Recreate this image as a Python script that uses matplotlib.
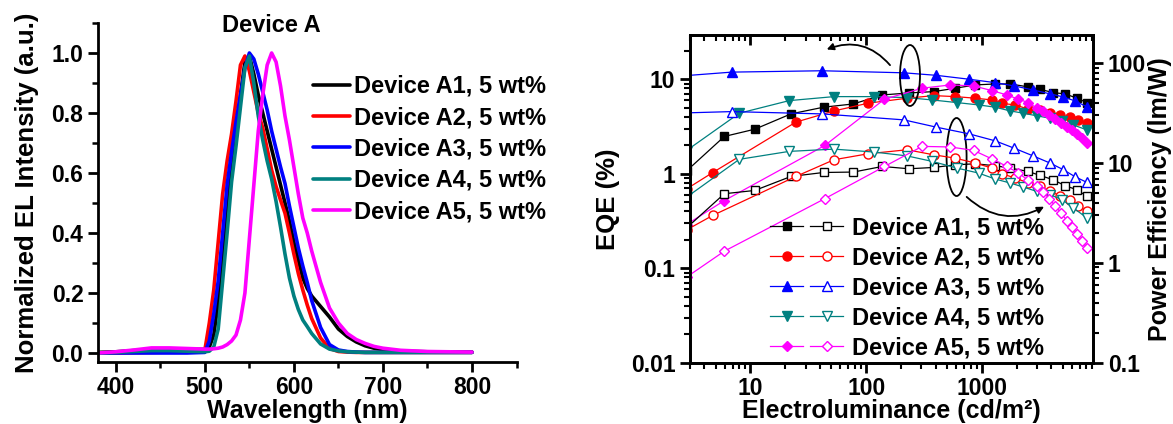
import matplotlib
matplotlib.use('Agg')
import matplotlib.pyplot as plt
from matplotlib import ticker
from matplotlib.patches import Ellipse
from matplotlib.legend_handler import HandlerTuple

plt.rcParams['font.family'] = ['Liberation Sans', 'DejaVu Sans']
plt.rcParams['font.weight'] = 'bold'
plt.rcParams['axes.labelweight'] = 'bold'
plt.rcParams['axes.linewidth'] = 2.0

# ---- EL spectra (left panel) ----
wavelength = [380, 400, 420, 440, 460, 480, 500, 505, 510, 515, 520, 525, 530, 535, 540, 545,
              550, 555, 560, 565, 570, 575, 580, 585, 590, 595, 600, 605, 610, 615, 620, 630,
              640, 650, 660, 670, 680, 690, 700, 720, 750, 800]
el_a1 = [0.002, 0.004, 0.008, 0.012, 0.012, 0.012, 0.012, 0.02, 0.06, 0.17, 0.32, 0.48, 0.62, 0.74,
         0.86, 0.97, 0.99, 0.93, 0.86, 0.80, 0.74, 0.68, 0.62, 0.56, 0.50, 0.44, 0.37, 0.31, 0.25,
         0.215, 0.19, 0.155, 0.12, 0.08, 0.055, 0.037, 0.024, 0.016, 0.011, 0.006, 0.004, 0.003]
el_a2 = [0.0, 0.0, 0.001, 0.002, 0.003, 0.003, 0.01, 0.10, 0.21, 0.37, 0.53, 0.64, 0.73, 0.84,
         0.96, 0.99, 0.94, 0.87, 0.80, 0.75, 0.68, 0.61, 0.555, 0.51, 0.466, 0.40, 0.33, 0.265,
         0.21, 0.16, 0.115, 0.05, 0.015, 0.005, 0.003, 0.002, 0.002, 0.002, 0.002, 0.002, 0.002, 0.002]
el_a3 = [0.0, 0.0, 0.0, 0.0, 0.0, 0.0, 0.002, 0.04, 0.13, 0.24, 0.40, 0.56, 0.67, 0.77,
         0.86, 0.95, 1.0, 0.98, 0.93, 0.87, 0.81, 0.74, 0.68, 0.62, 0.565, 0.49, 0.42, 0.35,
         0.29, 0.235, 0.175, 0.085, 0.028, 0.01, 0.005, 0.003, 0.002, 0.002, 0.002, 0.002, 0.002, 0.002]
el_a4 = [0.0, 0.002, 0.005, 0.008, 0.008, 0.006, 0.004, 0.006, 0.02, 0.08, 0.24, 0.40, 0.57, 0.69,
         0.82, 0.95, 0.99, 0.90, 0.79, 0.71, 0.64, 0.58, 0.505, 0.42, 0.33, 0.25, 0.19, 0.145,
         0.11, 0.088, 0.065, 0.03, 0.013, 0.007, 0.004, 0.003, 0.002, 0.002, 0.002, 0.002, 0.002, 0.002]
el_a5 = [0.0, 0.004, 0.01, 0.017, 0.017, 0.015, 0.013, 0.013, 0.014, 0.016, 0.02, 0.028, 0.04, 0.06,
         0.11, 0.2, 0.38, 0.56, 0.74, 0.86, 0.96, 1.0, 0.97, 0.89, 0.79, 0.71, 0.62, 0.53,
         0.45, 0.40, 0.34, 0.235, 0.15, 0.10, 0.065, 0.045, 0.032, 0.022, 0.016, 0.009, 0.005, 0.003]

# ---- EQE / power efficiency vs luminance (right panel) ----
lum_a1 = [2.8, 5.94, 10.9, 22.4, 42.8, 77.6, 138, 234, 384, 591, 879, 1306, 1762, 2518, 3194,
          4132, 5248, 6656, 8110]
eqe_a1 = [1.07, 2.48, 2.96, 4.30, 5.06, 5.48, 6.82, 7.16, 7.40, 8.04, 8.71, 8.92, 8.92, 8.30, 7.83,
          7.22, 7.00, 6.30, 5.66]
pe_a1 = [2.24, 4.93, 5.32, 7.35, 8.05, 8.13, 9.25, 8.77, 9.04, 9.61, 9.84, 9.40, 8.91, 8.24, 7.52,
         6.81, 5.93, 5.41, 4.63]

lum_a2 = [2.8, 4.72, 24.7, 52.7, 104, 226, 384, 591, 879, 1225, 1493, 1945, 2531, 3194, 3896,
          4753, 5794, 6797, 8110]
eqe_a2 = [0.69, 1.03, 3.52, 4.62, 5.58, 6.30, 6.71, 6.55, 6.30, 6.04, 5.55, 5.35, 4.82, 4.69, 4.44,
          4.20, 3.97, 3.72, 3.43]
pe_a2 = [2.14, 2.99, 7.35, 10.8, 12.4, 13.6, 12.1, 11.2, 10.0, 8.91, 7.82, 7.08, 6.31, 5.83, 5.20,
         4.71, 4.23, 3.74, 3.28]

lum_a3 = [2.0, 6.89, 41.6, 212, 405, 780, 1306, 1905, 2778, 3896, 5047, 6400, 8110]
eqe_a3 = [10.6, 11.9, 12.3, 11.7, 11.0, 10.0, 9.2, 8.5, 7.7, 7.0, 6.5, 5.9, 5.1]
pe_a3 = [31.5, 32.8, 31.1, 27.1, 22.9, 19.6, 16.7, 14.1, 11.8, 10.0, 8.6, 7.3, 6.4]

lum_a4 = [2.8, 8.0, 21.6, 52.7, 117, 226, 372, 611, 938, 1306, 1762, 2291, 2990, 3896, 4943,
          6147, 8110]
eqe_a4 = [1.76, 4.37, 5.94, 6.55, 6.55, 6.39, 6.04, 5.66, 5.35, 5.06, 4.62, 4.37, 4.10, 3.87, 3.58,
          3.29, 2.91]
pe_a4 = [4.55, 10.9, 13.1, 13.8, 12.9, 11.8, 10.4, 8.91, 7.94, 6.92, 6.31, 5.75, 5.20, 4.82, 4.30,
         3.57, 2.82]

lum_a5 = [2.8, 5.94, 43.9, 144, 305, 535, 849, 1225, 1649, 2075, 2531, 2990, 3388, 3819, 4303,
          4845, 5458, 6030, 6656, 7350, 8110]
eqe_a5 = [0.29, 0.52, 1.99, 6.15, 8.04, 8.71, 8.50, 7.58, 6.82, 6.15, 5.66, 4.94, 4.57, 4.20, 3.81,
          3.46, 3.14, 2.88, 2.64, 2.37, 2.11]
pe_a5 = [0.72, 1.31, 4.40, 9.25, 14.7, 14.5, 13.4, 11.0, 9.25, 7.94, 6.70, 5.83, 5.16, 4.40, 3.74,
         3.15, 2.65, 2.28, 1.96, 1.67, 1.41]

labels = ['Device A1, 5 wt%', 'Device A2, 5 wt%', 'Device A3, 5 wt%',
          'Device A4, 5 wt%', 'Device A5, 5 wt%']
colors = ['#000000', '#ff0000', '#0000ff', '#008080', '#ff00ff']
markers = ['s', 'o', '^', 'v', 'D']

W, H = 1173, 424
fig = plt.figure(figsize=(W / 100, H / 100), dpi=100)

# ---------- left panel ----------
ax1 = fig.add_axes([98 / W, 1 - 361.7 / H, 418.5 / W, 338.7 / H])
for spec, c, lab in zip([el_a1, el_a2, el_a3, el_a4, el_a5], colors, labels):
    ax1.plot(wavelength, spec, color=c, lw=2.6, label=lab, solid_capstyle='round')
ax1.set_xlim(380, 850)
ax1.set_ylim(-0.029, 1.1)
ax1.spines['top'].set_visible(False)
ax1.spines['right'].set_visible(False)
ax1.xaxis.set_major_locator(ticker.MultipleLocator(100))
ax1.xaxis.set_minor_locator(ticker.MultipleLocator(50))
ax1.yaxis.set_major_locator(ticker.MultipleLocator(0.2))
ax1.yaxis.set_minor_locator(ticker.MultipleLocator(0.1))
ax1.yaxis.set_major_formatter(ticker.FormatStrFormatter('%.1f'))
ax1.tick_params(which='major', direction='out', length=7, width=2, labelsize=16.5)
ax1.tick_params(which='minor', direction='out', length=4, width=1.8)
ax1.set_xlabel('Wavelength (nm)', fontsize=18, labelpad=0)
ax1.set_ylabel('Normalized EL Intensity (a.u.)', fontsize=18.5, labelpad=9)
fig.text(271 / W, 1 - 25 / H, 'Device A', ha='center', va='center', fontsize=17)
ax1.legend(loc='upper left', bbox_to_anchor=(313 / W, 1 - 75 / H), bbox_transform=fig.transFigure,
           frameon=False, fontsize=17, handlelength=1.55, handletextpad=0.17, labelspacing=0.35,
           borderpad=0, borderaxespad=0)

# ---------- right panel ----------
ax2 = fig.add_axes([690 / W, 1 - 362.7 / H, 403.3 / W, 327.7 / H])
ax3 = ax2.twinx()
ax2.set_xscale('log')
ax2.set_yscale('log')
ax3.set_yscale('log')

handles = []
series = [(lum_a1, eqe_a1, pe_a1), (lum_a2, eqe_a2, pe_a2), (lum_a3, eqe_a3, pe_a3),
          (lum_a4, eqe_a4, pe_a4), (lum_a5, eqe_a5, pe_a5)]
for (lum, eqe, pe), c, m in zip(series, colors, markers):
    ms = 5.5 if m in ('s', 'D') else 6.5
    f, = ax2.plot(lum, eqe, color=c, lw=0.9, marker=m, ms=ms, mfc=c, mec=c)
    o, = ax3.plot(lum, pe, color=c, lw=0.9, marker=m, ms=ms, mfc='white', mec=c, mew=1.0)
    handles.append((f, o))

ax2.set_xlim(3, 9200)
ax2.set_ylim(0.01, 29.4)
ax3.set_ylim(0.1, 192)

fmt = ticker.FuncFormatter(lambda v, p: f'{v:g}')
for axis in (ax2.xaxis, ax2.yaxis, ax3.yaxis):
    axis.set_major_locator(ticker.LogLocator(base=10))
    axis.set_minor_locator(ticker.LogLocator(base=10, subs=range(2, 10)))
    axis.set_major_formatter(fmt)
    axis.set_minor_formatter(ticker.NullFormatter())
ax2.tick_params(which='major', direction='out', length=7, width=2, labelsize=16.5)
ax2.tick_params(which='minor', direction='out', length=4, width=1.5)
ax3.tick_params(axis='y', which='major', direction='out', length=7, width=2, labelsize=16.5)
ax3.tick_params(axis='y', which='minor', direction='out', length=4, width=1.5)
ax3.xaxis.set_visible(True)
ax3.tick_params(axis='x', which='both', bottom=False, top=True, labelbottom=False,
                labeltop=False, direction='in')
ax3.tick_params(axis='x', which='major', length=7, width=2)
ax3.tick_params(axis='x', which='minor', length=4, width=1.5)

ax2.set_xlabel('Electroluminance (cd/m²)', fontsize=18, labelpad=-1)
ax2.set_ylabel('EQE (%)', fontsize=18.5, labelpad=8)
ax3.set_ylabel('Power Efficiency (lm/W)', fontsize=18, labelpad=1)

# ellipses and arrows marking which axis each set belongs to
ax3.add_patch(Ellipse((0.5455, 0.8764), 0.0496, 0.186, transform=ax3.transAxes,
                      fill=False, lw=1.3, ec='black'))
ax3.add_patch(Ellipse((0.661, 0.6277), 0.0496, 0.238, transform=ax3.transAxes,
                      fill=False, lw=1.3, ec='black'))
ax3.annotate('', xy=(0.339, 0.956), xytext=(0.496, 0.908), xycoords='axes fraction',
             arrowprops=dict(arrowstyle='-|>', connectionstyle='arc3,rad=0.35', color='black',
                             lw=1.3, shrinkA=0, shrinkB=0, mutation_scale=10))
ax3.annotate('', xy=(0.878, 0.476), xytext=(0.686, 0.506), xycoords='axes fraction',
             arrowprops=dict(arrowstyle='-|>', connectionstyle='arc3,rad=0.35', color='black',
                             lw=1.3, shrinkA=0, shrinkB=0, mutation_scale=10))

ax3.legend(handles, labels, handler_map={tuple: HandlerTuple(ndivide=None, pad=0.3)},
           loc='upper left', bbox_to_anchor=(770 / W, 1 - 216 / H), bbox_transform=fig.transFigure,
           frameon=False, fontsize=17, numpoints=1, handlelength=3.1, handletextpad=0.38,
           labelspacing=0.3, borderpad=0, borderaxespad=0)

fig.savefig('out.png', dpi=100)
